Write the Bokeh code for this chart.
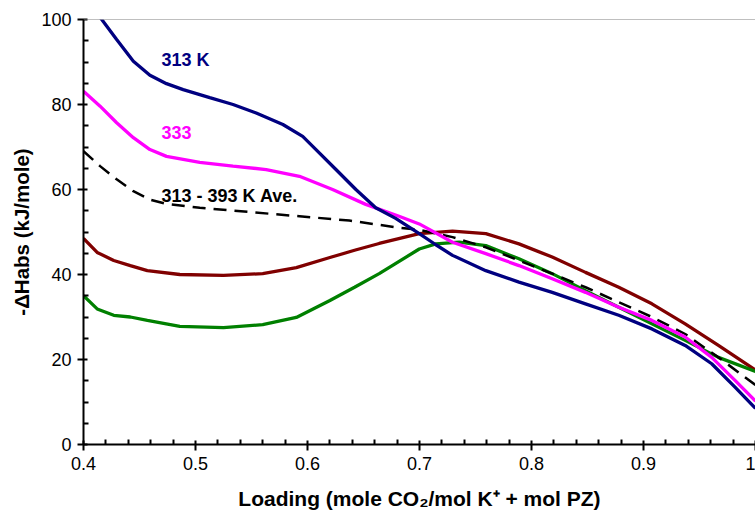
from bokeh.plotting import figure
from bokeh.models import FixedTicker, Span, Range1d
from bokeh.core.properties import value
from bokeh.embed import file_html
from bokeh.resources import INLINE

# ---------------- data ----------------
x_313 = [0.405, 0.4163, 0.4296, 0.4445, 0.4593, 0.4741, 0.489, 0.5127, 0.5335, 0.5542,
         0.578, 0.5957, 0.6076, 0.6254, 0.6432, 0.6609, 0.6787, 0.6998, 0.7146, 0.7295,
         0.7592, 0.7888, 0.8185, 0.8482, 0.8779, 0.9075, 0.9372, 0.9609, 0.9817, 1.0]
y_313 = [104.0, 100.0, 95.3, 90.2, 86.9, 84.9, 83.5, 81.6, 80.0, 78.0,
         75.3, 72.5, 69.4, 64.7, 60.0, 55.7, 53.2, 49.6, 47.0, 44.5,
         40.9, 38.2, 35.8, 33.1, 30.4, 27.2, 23.3, 19.0, 13.5, 8.5]

x_333 = [0.4, 0.4148, 0.4296, 0.4445, 0.4593, 0.4741, 0.5038, 0.5335, 0.5631, 0.5928,
         0.6224, 0.652, 0.6817, 0.6998, 0.7295, 0.7592, 0.7888, 0.8185, 0.8482, 0.8779,
         0.9075, 0.9372, 0.9609, 0.9817, 1.0]
y_333 = [83.1, 79.6, 75.7, 72.2, 69.4, 67.8, 66.4, 65.5, 64.7, 63.1,
         60.0, 56.5, 53.7, 51.9, 47.6, 44.9, 42.1, 39.0, 35.8, 32.3,
         29.2, 25.3, 20.5, 15.1, 10.2]

x_ave = [0.4, 0.4148, 0.4296, 0.4445, 0.4593, 0.4741, 0.5038, 0.5483, 0.5928, 0.6373,
         0.6817, 0.6998, 0.7295, 0.7592, 0.7888, 0.8185, 0.8482, 0.8779, 0.9075, 0.9372,
         0.9669, 1.0]
y_ave = [69.0, 65.5, 62.4, 59.6, 57.6, 56.6, 55.7, 54.7, 53.7, 52.7,
         51.0, 50.5, 48.8, 46.4, 43.3, 40.2, 37.0, 33.5, 30.0, 26.0,
         20.5, 14.0]

x_red = [0.4, 0.4122, 0.427, 0.4418, 0.457, 0.486, 0.525, 0.56, 0.59, 0.62,
         0.642, 0.664, 0.6998, 0.7295, 0.7592, 0.7888, 0.8185, 0.8482, 0.8779, 0.9075,
         0.9372, 0.9669, 1.0]
y_red = [48.5, 45.2, 43.3, 42.1, 40.9, 40.0, 39.8, 40.2, 41.6, 44.0,
         45.7, 47.3, 49.6, 50.2, 49.6, 47.2, 44.1, 40.5, 37.0, 33.1,
         28.4, 23.3, 17.5]

x_grn = [0.4, 0.4122, 0.427, 0.4418, 0.457, 0.486, 0.525, 0.56, 0.59, 0.62,
         0.642, 0.664, 0.6998, 0.7146, 0.7354, 0.7592, 0.7888, 0.8185, 0.8482, 0.8779,
         0.9075, 0.9372, 0.9669, 1.0]
y_grn = [35.0, 31.9, 30.4, 30.0, 29.2, 27.8, 27.5, 28.2, 29.9, 33.9,
         37.0, 40.2, 46.0, 47.2, 47.6, 46.8, 43.7, 40.2, 36.2, 32.3,
         28.4, 24.5, 20.5, 17.2]

x_ticks = [0.4, 0.5, 0.6, 0.7, 0.8, 0.9, 1.0]
x_tick_labels = ["0.4", "0.5", "0.6", "0.7", "0.8", "0.9", "1"]
y_ticks = [0, 20, 40, 60, 80, 100]

x_title = "Loading (mole CO\u2082/mol K\u207a + mol PZ)"
y_title = "-\u0394Habs (kJ/mole)"

# ---------------- figure ----------------
FONT = "Liberation Sans"
W, H = 755, 516
p = figure(width=W, height=H, output_backend="svg", toolbar_location=None,
           x_range=Range1d(0.4, 1.0), y_range=Range1d(0, 100),
           min_border_left=83, min_border_right=0, min_border_top=19, min_border_bottom=72)
p.outline_line_color = None
p.xgrid.visible = False
p.ygrid.visible = False

def dx(px):
    return 0.4 + (px - 83) * 0.6 / (755 - 83)
def dy(py):
    return (444 - py) * 100.0 / (444 - 19)

minor_x = [round(0.4 + 0.02 * i, 3) for i in range(31) if i % 5 != 0]
minor_y = [5 * i for i in range(21) if i % 4 != 0]
p.xaxis.ticker = FixedTicker(ticks=x_ticks, minor_ticks=minor_x)
p.yaxis.ticker = FixedTicker(ticks=y_ticks, minor_ticks=minor_y)
p.xaxis.major_label_overrides = {t: l for t, l in zip(x_ticks, x_tick_labels)}

for ax in (p.xaxis, p.yaxis):
    ax.axis_line_width = 2
    ax.axis_line_color = "black"
    ax.major_tick_line_width = 2
    ax.major_tick_line_color = "black"
    ax.minor_tick_line_width = 2
    ax.minor_tick_line_color = "black"
    ax.major_tick_out = 6
    ax.major_tick_in = 4
    ax.minor_tick_out = 0
    ax.minor_tick_in = 5
    ax.major_label_text_font = FONT
    ax.major_label_text_font_size = "18px"
    ax.major_label_text_color = "black"
    ax.axis_label_text_font = FONT
    ax.axis_label_text_font_style = "bold"
    ax.axis_label_text_color = "black"
p.xaxis.axis_label_text_font_size = "21px"
p.yaxis.axis_label_text_font_size = "20.5px"
p.xaxis.major_label_standoff = 6
p.yaxis.major_label_standoff = 6
p.xaxis.axis_label = x_title
p.yaxis.axis_label = y_title
p.xaxis.axis_label_standoff = 14
p.yaxis.axis_label_standoff = 5

p.add_layout(Span(location=100, dimension="width", line_color="#808080", line_width=1))

# ---------------- curves ----------------
p.line(x_red, y_red, line_color="#800000", line_width=3.3)
p.line(x_grn, y_grn, line_color="#008000", line_width=3.3)
p.line(x_ave, y_ave, line_color="black", line_width=2.5, line_dash="13 8")
p.line(x_333, y_333, line_color="#FF00FF", line_width=3.3)
p.line(x_313, y_313, line_color="#000080", line_width=3.3)

def txt(texts, xs, ys, color):
    p.text(x=xs, y=ys, text=texts, text_color=color,
           text_font=value(FONT), text_font_size=value("18px"), text_font_style="bold",
           text_align="left", text_baseline="alphabetic")

txt(["313 K"], [dx(161)], [dy(59.7)], "#000080")
txt(["333"], [dx(161)], [dy(132)], "#FF00FF")
txt(["313 - 393 K Ave."], [dx(161)], [dy(195)], "black")

open("out.html", "w").write(file_html(p, INLINE))
